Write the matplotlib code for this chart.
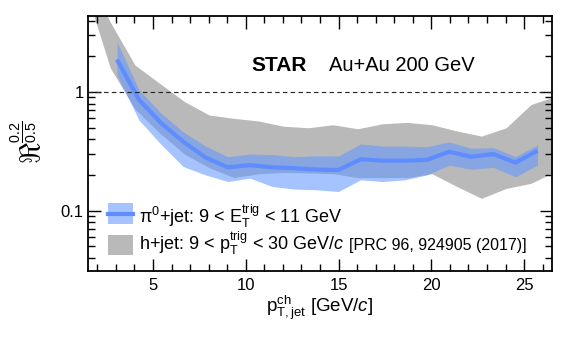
import matplotlib
matplotlib.use('Agg')
import matplotlib.pyplot as plt
from matplotlib.patches import Rectangle
from matplotlib.lines import Line2D
import matplotlib.ticker as mticker

plt.rcParams['font.family'] = ['Liberation Sans', 'DejaVu Sans']
plt.rcParams['mathtext.fontset'] = 'custom'
plt.rcParams['mathtext.rm'] = 'Liberation Sans'
plt.rcParams['mathtext.it'] = 'Liberation Sans:italic'
plt.rcParams['mathtext.bf'] = 'Liberation Sans:bold'
plt.rcParams['mathtext.sf'] = 'Liberation Sans'

# ---------------- data ----------------
# h+jet band (PRC 96, 024905)
h_x = [1.37, 2.70, 4.03, 5.37, 6.70, 8.03, 9.37, 10.70, 12.03, 13.37,
       14.70, 16.03, 17.37, 18.70, 20.03, 21.37, 22.70, 24.03, 25.37, 26.70]
h_hi = [10.0, 3.89, 1.69, 1.18, 0.83, 0.64, 0.60, 0.57, 0.515, 0.50,
        0.53, 0.49, 0.54, 0.555, 0.53, 0.47, 0.425, 0.50, 0.785, 0.92]
h_lo = [7.3, 1.6, 0.72, 0.45, 0.30, 0.23, 0.19, 0.205, 0.21, 0.208,
        0.205, 0.19, 0.19, 0.19, 0.205, 0.16, 0.127, 0.154, 0.17, 0.215]

# pi0+jet
p_x = [3.06, 4.25, 5.45, 6.64, 7.84, 9.03, 10.22, 11.42, 12.61, 13.80,
       14.99, 16.19, 17.38, 18.57, 19.76, 20.96, 22.15, 23.34, 24.53, 25.72]
p_c = [1.88, 0.86, 0.545, 0.38, 0.28, 0.232, 0.242, 0.232, 0.228, 0.222,
       0.22, 0.271, 0.264, 0.264, 0.268, 0.314, 0.285, 0.30, 0.254, 0.32]
p_hi = [2.65, 1.04, 0.66, 0.46, 0.35, 0.285, 0.30, 0.297, 0.285, 0.29,
        0.289, 0.365, 0.35, 0.35, 0.346, 0.38, 0.335, 0.34, 0.285, 0.358]
p_lo = [1.39, 0.58, 0.36, 0.235, 0.20, 0.176, 0.188, 0.16, 0.152, 0.15,
        0.145, 0.182, 0.176, 0.182, 0.20, 0.242, 0.223, 0.232, 0.193, 0.242]

label_pi0 = r'$\mathrm{\pi}^{0}$+jet: 9 < $\mathrm{E}_{\rm T}^{\rm trig}$ < 11 GeV'
label_h = r'h+jet: 9 < $\mathrm{p}_{\rm T}^{\rm trig}$ < 30 GeV/$c$'
label_ref = '[PRC 96, 924905 (2017)]'

GRAY = '#b9b9b9'
BLUE = '#6196ff'
BALPHA = 0.57
LINE = '#5f8dff'

W, H = 581, 346
fig = plt.figure(figsize=(W / 100, H / 100), dpi=100)
ax = fig.add_axes([88 / W, 1 - 271 / H, (552 - 88) / W, (271 - 15.7) / H])


def F(px, py):
    return px / W, 1 - py / H


ax.fill_between(h_x, h_lo, h_hi, color=GRAY, lw=0, zorder=1)
ax.fill_between(p_x, p_lo, p_hi, color=BLUE, alpha=BALPHA, lw=0, zorder=2)
ax.plot(p_x, p_c, color=LINE, lw=3, zorder=3, solid_joinstyle='miter',
        solid_capstyle='butt')
ax.axhline(1, color='#222222', lw=0.8, ls=(0, (4, 3)), zorder=4)

ax.set_yscale('log')
ax.set_xlim(1.5, 26.5)
ax.set_ylim(0.031, 4.4)
ax.xaxis.set_major_locator(mticker.MultipleLocator(5))
ax.xaxis.set_minor_locator(mticker.MultipleLocator(1))
ax.yaxis.set_major_locator(mticker.FixedLocator([0.1, 1]))
ax.yaxis.set_major_formatter(mticker.FuncFormatter(lambda v, _: f'{v:g}'))
ax.yaxis.set_minor_locator(mticker.LogLocator(base=10, subs=range(2, 10)))
ax.yaxis.set_minor_formatter(mticker.NullFormatter())
ax.tick_params(which='both', direction='in', top=True, right=True, width=1)
ax.tick_params(which='major', length=9, labelsize=12)
ax.tick_params(axis='x', which='major', pad=5)
ax.tick_params(axis='y', which='major', pad=3)
ax.tick_params(which='minor', length=5)
for s in ax.spines.values():
    s.set_linewidth(1.3)

fig.text(*F(251.7, 71), 'STAR', fontsize=15, fontweight='bold', va='baseline')
fig.text(*F(329, 71), 'Au+Au 200 GeV', fontsize=14.5, va='baseline')

# legend (manual)
fig.add_artist(Rectangle(F(108, 224), 25 / W, 21 / H, transform=fig.transFigure,
                         facecolor=BLUE, alpha=BALPHA, lw=0))
fig.add_artist(Line2D([108 / W, 133 / W], [1 - 213.5 / H] * 2, transform=fig.transFigure,
                      color=LINE, lw=3))
fig.add_artist(Rectangle(F(108, 255), 25 / W, 20 / H, transform=fig.transFigure,
                         facecolor=GRAY, lw=0))
fig.text(*F(139, 223), label_pi0, fontsize=13, va='baseline')
t2 = fig.text(*F(139, 250), label_h, fontsize=13, va='baseline')
fig.canvas.draw()
bb = t2.get_window_extent()
fig.text(bb.x1 / W + 4 / W, 1 - 250 / H, label_ref, fontsize=11.5, va='baseline')

fig.text(*F(320, 311.7), r'$\mathrm{p}_{\rm T,jet}^{\rm ch}$ [GeV/$c$]', fontsize=13.5,
         ha='center', va='baseline')
fig.text(*F(29, 142), r'$\Re^{\frac{0.2}{0.5}}$', rotation=90, fontsize=21,
         ha='center', va='center')

fig.savefig('out.png', dpi=100)
